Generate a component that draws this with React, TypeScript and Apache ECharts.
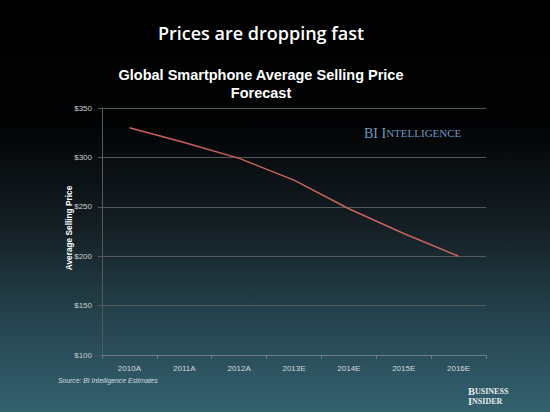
import React, { useEffect, useRef } from "react";
import * as echarts from "echarts";

// Forecast data: global smartphone average selling price (USD)
const years = ["2010A", "2011A", "2012A", "2013E", "2014E", "2015E", "2016E"];
const avgPrice = [330, 315, 299, 277, 248, 223, 200];
const yTicks = { min: 100, max: 350, interval: 50 };

const sans = "'Liberation Sans', Arial, sans-serif";
const serif = "'Liberation Serif', 'DejaVu Serif', serif";

export default function App() {
  const ref = useRef<HTMLDivElement>(null);

  useEffect(() => {
    if (!ref.current) return;
    const chart = echarts.init(ref.current, null, { renderer: "svg" });
    chart.setOption({
      animation: false,
      backgroundColor: new echarts.graphic.LinearGradient(0, 0, 0, 1, [
        { offset: 0, color: "#000000" },
        { offset: 0.3, color: "#020304" },
        { offset: 0.55, color: "#141f24" },
        { offset: 0.78, color: "#25444f" },
        { offset: 1, color: "#34616f" },
      ]),
      grid: { left: 102, right: 64, top: 108, bottom: 57, containLabel: false },
      xAxis: {
        type: "category",
        data: years,
        boundaryGap: true,
        axisLine: { lineStyle: { color: "#6d7f86", width: 1 } },
        axisTick: { show: true, length: 4, lineStyle: { color: "#6d7f86" } },
        axisLabel: { color: "#d4dadc", fontFamily: sans, fontSize: 8, margin: 9 },
        splitLine: { show: false },
      },
      yAxis: {
        type: "value",
        min: yTicks.min,
        max: yTicks.max,
        interval: yTicks.interval,
        axisLine: { show: true, lineStyle: { color: "#55595b", width: 1 } },
        axisTick: { show: true, length: 4, lineStyle: { color: "#55595b" } },
        axisLabel: {
          color: "#c8cccd",
          fontFamily: sans,
          fontSize: 8,
          margin: 10,
          formatter: (v: number) => "$" + v,
        },
        splitLine: { show: true, lineStyle: { color: "#545a5c", width: 1 } },
      },
      series: [
        {
          type: "line",
          data: avgPrice,
          symbol: "none",
          lineStyle: { color: "#c8625c", width: 1.5 },
        },
      ],
      graphic: [
        {
          type: "text",
          x: 261,
          y: 24,
          style: {
            text: "Prices are dropping fast",
            align: "center",
            fill: "#ffffff",
            fontFamily: "'Open Sans', Lato, sans-serif",
            fontWeight: 600,
            fontSize: 18,
          },
        },
        {
          type: "text",
          x: 261,
          y: 66,
          style: {
            text: "Global Smartphone Average Selling Price\nForecast",
            align: "center",
            fill: "#ffffff",
            fontFamily: sans,
            fontWeight: "bold",
            fontSize: 14.5,
            lineHeight: 18,
          },
        },
        {
          // y-axis title, rotated to read bottom-to-top
          type: "text",
          x: 69,
          y: 228,
          rotation: Math.PI / 2,
          style: {
            text: "Average Selling Price",
            align: "center",
            verticalAlign: "middle",
            fill: "#ffffff",
            fontFamily: sans,
            fontWeight: "bold",
            fontSize: 8.3,
          },
        },
        {
          type: "text",
          left: 364,
          top: 126,
          style: {
            text: "{a|BI I}{b|NTELLIGENCE}",
            rich: {
              a: { fill: "#7096c2", fontFamily: serif, fontSize: 14 },
              b: { fill: "#7096c2", fontFamily: serif, fontSize: 11 },
            },
          },
        },
        {
          type: "text",
          left: 58,
          top: 377,
          style: {
            text: "Source: BI Intelligence Estimates",
            fill: "#d5dde0",
            fontFamily: sans,
            fontStyle: "italic",
            fontSize: 6.8,
          },
        },
        {
          type: "text",
          left: 468,
          top: 386,
          style: {
            text: "{a|B}{b|USINESS}\n{a|I}{b|NSIDER}",
            lineHeight: 10,
            rich: {
              a: { fill: "#e6ecee", fontFamily: serif, fontSize: 10.5, fontWeight: "bold", lineHeight: 10 },
              b: { fill: "#e6ecee", fontFamily: serif, fontSize: 8, fontWeight: "bold", lineHeight: 10 },
            },
          },
        },
      ],
    });
    return () => chart.dispose();
  }, []);

  return (
    <div
      ref={ref}
      style={{ position: "fixed", left: 0, top: 0, width: 550, height: 412 }}
    />
  );
}
